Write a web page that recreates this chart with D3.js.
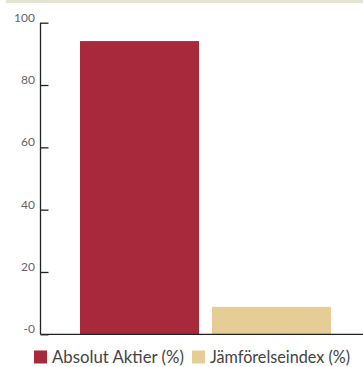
<!DOCTYPE html>
<html><head><meta charset="utf-8">
<script src="https://cdn.jsdelivr.net/npm/d3@7"></script>
<style>body{margin:0;background:#fff;}svg{display:block;}</style>
</head><body>
<script>
const categories = ["Absolut Aktier (%)", "Jämförelseindex (%)"];
const values = [94.1, 8.8];
const colors = ["#a8283c", "#e6cd96"];
const tickValues = [0, 20, 40, 60, 80, 100];
const tickLabels = ["-0", "20", "40", "60", "80", "100"];

const W = 363, H = 367;
const svg = d3.select("body").append("svg").attr("width", W).attr("height", H);
const font = "Lato, 'Open Sans', sans-serif";

svg.append("rect").attr("x", 6).attr("y", 0).attr("width", W - 6).attr("height", 3).attr("fill", "#e6e4d3");

const y = d3.scaleLinear().domain([0, 100]).range([334.3, 22.7]);
const x = d3.scaleBand().domain(categories).range([40.4, 370.6]).paddingInner(0.0985).paddingOuter(0.3);
const x0 = 40.5;

svg.selectAll("rect.bar").data(categories).enter().append("rect")
  .attr("class", "bar")
  .attr("x", d => x(d)).attr("width", x.bandwidth())
  .attr("y", (d, i) => y(values[i])).attr("height", (d, i) => y(0) - y(values[i]))
  .attr("fill", (d, i) => colors[i]);

// y axis
const yAxis = d3.axisRight(y).tickValues(tickValues).tickSize(8).tickFormat("");
const ga = svg.append("g").attr("transform", `translate(${x0},0)`).call(yAxis);
ga.select(".domain").remove();
ga.selectAll("line").attr("stroke", "#222").attr("stroke-width", 1.3);
svg.append("line").attr("x1", x0).attr("x2", x0).attr("y1", y(100)).attr("y2", y(0)).attr("stroke", "#222").attr("stroke-width", 1.3);
svg.append("line").attr("x1", x0).attr("x2", W).attr("y1", y(0)).attr("y2", y(0)).attr("stroke", "#222").attr("stroke-width", 1.3);

svg.selectAll("text.yl").data(tickValues).enter().append("text")
  .attr("class", "yl")
  .attr("x", 35).attr("y", d => y(d) - 1)
  .attr("text-anchor", "end").attr("font-family", font).attr("font-size", 12)
  .attr("fill", "#666").text((d, i) => tickLabels[i]);

// legend
const legX = [34, 192];
const legW = [132, 140];
const lg = svg.selectAll("g.leg").data(categories).enter().append("g").attr("class", "leg")
  .attr("transform", (d, i) => `translate(${legX[i]},350.5)`);
lg.append("rect").attr("width", 13).attr("height", 13).attr("fill", (d, i) => colors[i]);
lg.append("text").attr("x", 18).attr("y", 12.5).attr("font-family", font).attr("font-size", 16.5)
  .attr("fill", "#444").attr("textLength", (d, i) => legW[i]).attr("lengthAdjust", "spacingAndGlyphs")
  .text(d => d);
</script>
</body></html>
